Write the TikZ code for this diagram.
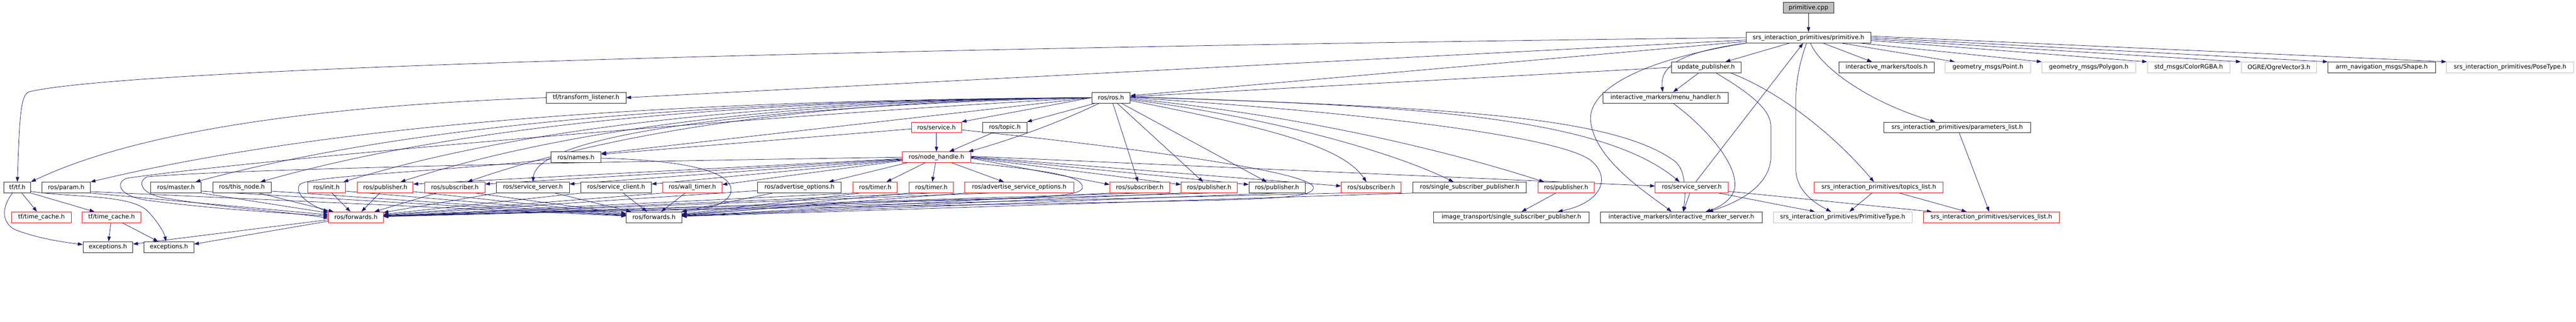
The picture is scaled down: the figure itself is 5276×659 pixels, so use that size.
\documentclass[tikz,border=0pt]{standalone}
\usepackage{fontspec}
\setmainfont{DejaVu Sans}
\usetikzlibrary{arrows.meta,backgrounds}
\definecolor{navy}{RGB}{25,25,112}
\definecolor{gborder}{RGB}{191,191,191}
\definecolor{rborder}{RGB}{255,0,0}
\definecolor{cppfill}{RGB}{191,191,191}
\newcommand\boxfont{\fontsize{12.3pt}{14pt}\selectfont}
\newcommand\mkbox[6]{\node[#1,minimum width=#5pt] (#2) at (#3,#4) {#6};}
\begin{document}
\begin{tikzpicture}[x=1pt,y=-1pt,
  nb/.style={draw=black!85,fill=white,line width=0.9pt,minimum height=22pt,inner sep=0pt,font=\boxfont},
  nr/.style={nb,draw=rborder},
  ng/.style={nb,draw=gborder},
  e/.style={draw=navy,line width=0.8pt,-{Triangle[length=10pt,width=7pt]}}]
\useasboundingbox (0,0) rectangle (5276,659);
% row 0-2
\mkbox{nb,fill=cppfill}{cpp}{3704}{16}{104}{primitive.cpp}
\mkbox{nb}{prim}{3704}{77}{256}{srs\_interaction\_primitives/primitive.h}
\mkbox{nb}{upd}{3494.5}{138}{143}{update\_publisher.h}
\mkbox{nb}{tools}{3864}{138}{196}{interactive\_markers/tools.h}
\mkbox{ng}{point}{4071.5}{138}{175}{geometry\_msgs/Point.h}
\mkbox{ng}{polygon}{4278}{138}{192}{geometry\_msgs/Polygon.h}
\mkbox{ng}{color}{4482.5}{138}{169}{std\_msgs/ColorRGBA.h}
\mkbox{ng}{ogre}{4667.5}{138}{155}{OGRE/OgreVector3.h}
\mkbox{nb}{shape}{4878}{138}{220}{arm\_navigation\_msgs/Shape.h}
\mkbox{ng}{pose}{5141}{138}{260}{srs\_interaction\_primitives/PoseType.h}
% row 3-5
\mkbox{nb}{tfl}{1200.5}{200}{163}{tf/transform\_listener.h}
\mkbox{nb}{rosh}{2275.5}{200}{79}{ros/ros.h}
\mkbox{nb}{menu}{3411.5}{200}{257}{interactive\_markers/menu\_handler.h}
\mkbox{nr}{service}{1918}{261}{102}{ros/service.h}
\mkbox{nb}{topic}{2058}{261}{90}{ros/topic.h}
\mkbox{nb}{params}{4008.5}{261}{301}{srs\_interaction\_primitives/parameters\_list.h}
\mkbox{nb}{names}{1179.5}{322}{103}{ros/names.h}
\mkbox{nr}{nh}{1918}{322}{140}{ros/node\_handle.h}
% row 6
\mkbox{nb}{tf}{35.5}{384}{55}{tf/tf.h}
\mkbox{nb}{param}{135.5}{384}{99}{ros/param.h}
\mkbox{nb}{master}{360.5}{384}{103}{ros/master.h}
\mkbox{nb}{thisnode}{495.5}{384}{119}{ros/this\_node.h}
\mkbox{nr}{init}{668.5}{384}{77}{ros/init.h}
\mkbox{nr}{pub1}{789}{384}{114}{ros/publisher.h}
\mkbox{nr}{sub1}{931.5}{384}{123}{ros/subscriber.h}
\mkbox{nb}{ss1}{1091.5}{384}{149}{ros/service\_server.h}
\mkbox{nb}{sc}{1262}{384}{144}{ros/service\_client.h}
\mkbox{nr}{wt}{1418}{384}{122}{ros/wall\_timer.h}
\mkbox{nb}{ao}{1637.5}{384}{171}{ros/advertise\_options.h}
\mkbox{nr}{tim1}{1792.5}{384}{91}{ros/timer.h}
\mkbox{nr}{tim2}{1907.5}{384}{91}{ros/timer.h}
\mkbox{nr}{aso}{2087.5}{384}{223}{ros/advertise\_service\_options.h}
\mkbox{nr}{sub2}{2334.5}{384}{123}{ros/subscriber.h}
\mkbox{nr}{pub2}{2476.5}{384}{115}{ros/publisher.h}
\mkbox{nb}{pub3}{2615.5}{384}{115}{ros/publisher.h}
\mkbox{nr}{sub3}{2808.5}{384}{123}{ros/subscriber.h}
\mkbox{nb}{ssp}{3010}{384}{232}{ros/single\_subscriber\_publisher.h}
\mkbox{nr}{pub4}{3207.5}{384}{115}{ros/publisher.h}
\mkbox{nr}{ss2}{3465}{384}{150}{ros/service\_server.h}
\mkbox{nr}{topics}{3848}{384}{264}{srs\_interaction\_primitives/topics\_list.h}
% row 7
\mkbox{nr}{tc1}{85}{445}{122}{tf/time\_cache.h}
\mkbox{nr}{tc2}{228.5}{445}{121}{tf/time\_cache.h}
\mkbox{nr}{fw1}{729}{445}{112}{ros/forwards.h}
\mkbox{nb}{fw2}{1339.5}{445}{113}{ros/forwards.h}
\mkbox{nb}{itssp}{3095.5}{445}{319}{image\_transport/single\_subscriber\_publisher.h}
\mkbox{nb}{ims}{3443.5}{445}{331}{interactive\_markers/interactive\_marker\_server.h}
\mkbox{ng}{ptype}{3774}{445}{284}{srs\_interaction\_primitives/PrimitiveType.h}
\mkbox{nr}{slist}{4078.5}{445}{279}{srs\_interaction\_primitives/services\_list.h}
% row 8
\mkbox{nb}{exc1}{221}{506}{102}{exceptions.h}
\mkbox{nb}{exc2}{346}{506}{102}{exceptions.h}

\begin{pgfonlayer}{background}
\fill[white] (0,0) rectangle (5276,659);
% top part
\draw[e] (cpp) -- (prim);
\draw[e] (prim.west) .. controls (2300,92) and (300,130) .. (60,188) .. controls (42,193) and (40,240) .. (tf.north);
\draw[e] ([yshift=-5pt]prim.west) -- (tfl.east);
\draw[e] ([yshift=-8pt]prim.west) -- ([yshift=4pt]rosh.east);
\draw[e] (upd.west) -- ([yshift=2pt]rosh.east);
\draw[e] (prim) -- (upd);
\draw[e] (prim) -- (tools);
\draw[e] (prim.south west) .. controls (3430,108) and (3400,140) .. ([xshift=-6pt]menu.north);
\draw[e] (upd) -- (menu);
\draw[e] (prim.south west) .. controls (3330,128) and (3250,195) .. (3258,250) .. controls (3268,330) and (3380,400) .. ([xshift=-20pt]ims.north);
\draw[e] ([xshift=-4pt]prim.south) .. controls (3685,130) and (3678,170) .. (3678,205) -- (3678,345) .. controls (3678,390) and (3715,415) .. ([xshift=-24pt]ptype.north);
\draw[e] ([xshift=4pt]prim.south) .. controls (3730,140) and (3830,210) .. ([xshift=-45pt]params.north);
\draw[e] ([xshift=-60pt]prim.south east) -- ([xshift=20pt]point.north west);
\draw[e] ([xshift=-22pt]prim.south east) -- (polygon.north west);
\draw[e] ([yshift=-6pt]prim.east) -- (color.north west);
\draw[e] ([yshift=-3pt]prim.east) -- (ogre.north west);
\draw[e] (prim.east) -- (shape.north west);
\draw[e] ([yshift=3pt]prim.east) -- (pose.north west);
\draw[e] ([xshift=8pt]ss2.north) -- ([xshift=-11pt]prim.south);
\draw[e] ([xshift=15pt]menu.south) .. controls (3480,250) and (3560,330) .. (3553,385) .. controls (3548,410) and (3520,425) .. ([xshift=50pt]ims.north);
\draw[e] ([xshift=20pt]upd.south) .. controls (3600,200) and (3627,230) .. (3627,260) -- (3627,320) .. controls (3627,380) and (3560,415) .. ([xshift=55pt]ims.north);
\draw[e] ([xshift=50pt]upd.south) .. controls (3650,190) and (3760,280) .. ([xshift=-10pt]topics.north);
\draw[e] (ss2) -- (ims);
\draw[e] ([xshift=55pt]ss2.south) -- ([xshift=-57pt]ptype.north);
\draw[e] ([yshift=-8pt]ss2.east) -- ([xshift=18pt]slist.north west);
\draw[e] (topics) -- (ptype);
\draw[e] ([xshift=42pt]topics.south) -- ([xshift=-51pt]slist.north);
\draw[e] (params) -- (slist);
% tf part
\draw[e] (tfl.west) .. controls (700,215) and (300,260) .. (tf.north east);
\draw[e] (tf) -- (tc1);
\draw[e] (tf.south east) -- ([xshift=-35pt]tc2.north);
\draw[e] ([xshift=-10pt]tf.south) .. controls (3,425) and (3,455) .. (30,470) .. controls (80,490) and (140,497) .. ([yshift=5pt]exc1.west);
\draw[e] ([yshift=-8pt]tf.east) .. controls (150,405) and (260,398) .. (300,430) .. controls (320,450) and (336,475) .. ([xshift=-6pt]exc2.north);
\draw[e] (tc2) -- (exc1);
\draw[e] (tc2) -- (exc2);
\draw[e] ([yshift=-5pt]fw1.west) -- ([yshift=6pt]exc1.east);
\draw[e] ([yshift=-8pt]fw1.west) -- ([yshift=6pt]exc2.east);
% ros.h
\draw[e] (rosh.west) .. controls (1395,205) and (698,250) .. (param.north east);
\draw[e] (rosh.west) .. controls (1483,205) and (859,250) .. ([xshift=-12pt]master.north east);
\draw[e] (rosh.west) .. controls (1538,205) and (959,252) .. ([xshift=-22pt]thisnode.north east);
\draw[e] (rosh.west) .. controls (1609,205) and (1085,255) .. ([xshift=-4pt]init.north east);
\draw[e] (rosh.west) .. controls (1655,205) and (1174,258) .. ([xshift=-26pt]pub1.north east);
\draw[e] (rosh.west) .. controls (1712,205) and (1277,262) .. ([xshift=-36pt]sub1.north east);
\draw[e] (rosh.west) .. controls (1600,215) and (1100,270) .. (ss1.north);
\draw[e] (rosh.west) -- ([yshift=8pt]names.east);
\draw[e] (rosh.west) -- (service.north east);
\draw[e] ([xshift=8pt]rosh.south west) -- (topic.north east);
\draw[e] ([xshift=16pt]rosh.south west) .. controls (2150,260) and (2050,292) .. ([xshift=-5pt]nh.north east);
\draw[e] (rosh) -- (sub2);
\draw[e] (rosh) -- (pub2);
\draw[e] (rosh) -- (pub3);
\draw[e] ([yshift=-6pt]rosh.east) .. controls (2600,262) and (2750,300) .. ([xshift=-10pt]sub3.north);
\draw[e] ([yshift=-4pt]rosh.east) .. controls (2600,240) and (2850,310) .. ([xshift=-33pt]ssp.north);
\draw[e] ([yshift=-2pt]rosh.east) .. controls (2700,240) and (3000,320) .. ([xshift=-45pt]pub4.north);
\draw[e] (rosh.east) .. controls (2800,230) and (3200,280) .. (3260,330) .. controls (3300,365) and (3280,415) .. ([xshift=95pt]itssp.north);
\draw[e] ([yshift=1pt]rosh.east) .. controls (2900,215) and (3280,240) .. ([xshift=-25pt]ss2.north);
\draw[e] ([yshift=2pt]rosh.east) .. controls (2950,220) and (3300,235) .. (3430,330) .. controls (3455,350) and (3452,400) .. ([xshift=4pt]ims.north);
% loops
\draw[e] (rosh.west) .. controls (1500,240) and (500,330) .. (260,365) .. controls (238,372) and (238,400) .. (300,410) .. controls (450,430) and (600,437) .. ([yshift=2pt]fw1.west);
\draw[e] (nh.west) .. controls (1300,330) and (500,345) .. (302,362) .. controls (282,370) and (285,396) .. (335,405) .. controls (450,425) and (600,435) .. ([yshift=-2pt]fw1.west);
\draw[e] ([yshift=-4pt]names.west) .. controls (900,352) and (630,360) .. (614,378) .. controls (600,398) and (640,422) .. (fw1.north west);
\draw[e] ([yshift=-2pt]names.east) .. controls (1400,328) and (1490,350) .. (1497,385) .. controls (1502,415) and (1450,430) .. (fw2.north east);
\draw[e] (nh.south east) .. controls (2150,350) and (2215,360) .. (2217,383) .. controls (2219,400) and (2150,405) .. (2000,408) .. controls (1700,414) and (1500,432) .. ([yshift=3pt]fw2.east);
\draw[e] ([yshift=-5pt]service.east) .. controls (2300,300) and (2680,350) .. (2690,383) .. controls (2695,405) and (2600,408) .. (2400,412) .. controls (1800,424) and (1000,435) .. ([yshift=3pt]fw1.east);
% node_handle
\draw[e] ([yshift=-3pt]nh.west) -- ([yshift=7pt]pub1.east);
\draw[e] ([yshift=-4pt]nh.west) -- ([yshift=7pt]sub1.east);
\draw[e] ([yshift=-5pt]nh.west) -- ([yshift=7pt]ss1.east);
\draw[e] ([yshift=-6pt]nh.west) -- ([yshift=7pt]sc.east);
\draw[e] ([yshift=-7pt]nh.west) -- ([yshift=6pt]wt.east);
\draw[e] ([xshift=10pt]nh.south west) -- ([xshift=-26pt]ao.north east);
\draw[e] (nh) -- (tim1);
\draw[e] (nh) -- (tim2);
\draw[e] (nh) -- (aso);
\draw[e] ([yshift=-2pt]nh.east) -- ([yshift=6pt]sub2.west);
\draw[e] ([yshift=-1pt]nh.east) -- ([yshift=6pt]pub2.west);
\draw[e] (nh.east) -- ([yshift=6pt]pub3.west);
\draw[e] ([yshift=1pt]nh.east) -- ([yshift=3pt]sub3.west);
\draw[e] ([yshift=2pt]nh.east) -- ([yshift=3pt]ss2.west);
\draw[e] (service) -- (nh);
\draw[e] (topic) -- (nh);
\draw[e] ([yshift=-3pt]service.west) -- ([yshift=6pt]names.east);
% to forwards
\draw[e] (param.south east) -- (fw1);
\draw[e] ([yshift=3pt]param.south east) -- (fw2);
\draw[e] (master.south east) -- (fw1);
\draw[e] ([yshift=4pt]master.south east) -- (fw2);
\draw[e] ([xshift=-25pt]thisnode.south east) -- (fw1);
\draw[e] ([yshift=4pt]thisnode.south east) -- (fw2);
\draw[e] (init) -- (fw1);
\draw[e] ([yshift=4pt]init.south east) -- (fw2);
\draw[e] (pub1) -- (fw1);
\draw[e] ([yshift=3pt]pub1.south east) -- (fw2);
\draw[e] (sub1) -- (fw1);
\draw[e] ([xshift=-20pt]sub1.south east) -- (fw2);
\draw[e] (ss1.south west) -- (fw1);
\draw[e] ([xshift=45pt]ss1.south) -- (fw2);
\draw[e] (sc.south west) -- (fw1);
\draw[e] (sc) -- (fw2);
\draw[e] (wt.south west) -- (fw1);
\draw[e] (wt) -- (fw2);
\draw[e] ([yshift=5pt]ao.south west) -- (fw1);
\draw[e] ([xshift=-55pt]ao.south) -- (fw2);
\draw[e] (tim1.south west) -- (fw1);
\draw[e] ([xshift=15pt]tim1.south west) -- (fw2);
\draw[e] (tim2.south) -- (fw1);
\draw[e] (tim2.south west) -- (fw2);
\draw[e] ([xshift=-60pt]aso.south) -- (fw1);
\draw[e] (aso.south west) -- (fw2);
\draw[e] (sub2.south) -- (fw1);
\draw[e] (sub2.south west) -- (fw2);
\draw[e] (pub2.south) -- (fw1);
\draw[e] (pub2.south west) -- (fw2);
\draw[e] (pub3.south) -- (fw2);
\draw[e] (sub3.south west) -- (fw1);
\draw[e] (ssp.south west) -- (fw2);
\draw[e] (pub4) -- (itssp);
\end{pgfonlayer}
\end{tikzpicture}
\end{document}
